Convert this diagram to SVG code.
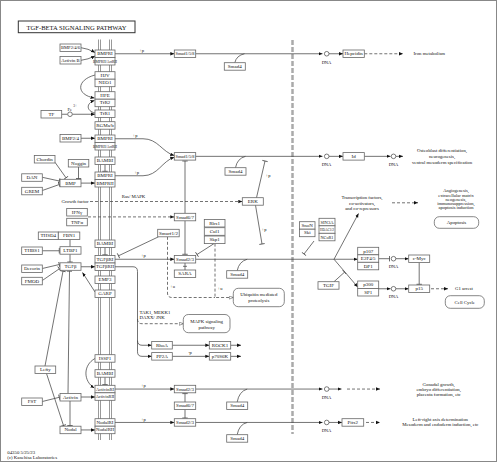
<svg xmlns="http://www.w3.org/2000/svg" width="497" height="462" viewBox="0 0 497 462">
<style>
text{font-family:"Liberation Serif","Times New Roman",serif;fill:#111}
.n rect{fill:#fff;stroke:#666;stroke-width:0.8}
.n text{font-size:5px;text-anchor:middle;dominant-baseline:central}
.r rect{fill:#fff;stroke:#555;stroke-width:0.7}
.r text{font-size:4.8px;text-anchor:middle;dominant-baseline:central}
.c path{fill:none;stroke:#444;stroke-width:0.75}
.c circle{fill:#fff;stroke:#444;stroke-width:0.7}
.a{marker-end:url(#ar)}
.b{marker-end:url(#br)}
.o{marker-end:url(#oa)}
.d{stroke-dasharray:3,2}
.l{font-size:4.8px;dominant-baseline:central}
.m{text-anchor:middle}
.s{font-size:4.5px;dominant-baseline:central}
.mem line{stroke:#999;stroke-width:1}
</style>
<defs>
<marker id="ar" markerUnits="userSpaceOnUse" markerWidth="5" markerHeight="4" refX="4" refY="2" orient="auto" viewBox="0 0 5 4"><path d="M0,0.3 L4,2 L0,3.7z" fill="#111"/></marker>
<marker id="oa" markerUnits="userSpaceOnUse" markerWidth="5" markerHeight="4" refX="4.3" refY="2" orient="auto" viewBox="0 0 5 4"><path d="M0.3,0.4 L4.3,2 L0.3,3.6z" fill="#fff" stroke="#444" stroke-width="0.5"/></marker>
<marker id="br" markerUnits="userSpaceOnUse" markerWidth="2" markerHeight="6" refX="1" refY="3" orient="auto" viewBox="0 0 2 6"><path d="M1,0.3 V5.7" stroke="#444" stroke-width="0.8"/></marker>
</defs>
<rect x="0.5" y="0.5" width="496" height="461" fill="#fff" stroke="#888" stroke-width="1"/>
<g id="title"><rect x="18.3" y="21" width="116.7" height="11.7" fill="#fff" stroke="#333" stroke-width="1"/><text x="76.6" y="27" font-size="6.8" text-anchor="middle" dominant-baseline="central" textLength="100" lengthAdjust="spacingAndGlyphs">TGF-BETA SIGNALING PATHWAY</text></g>
<g id="membrane" class="mem"><line x1="98.5" y1="39.5" x2="98.5" y2="440"/><line x1="100.5" y1="39.5" x2="100.5" y2="440"/><line x1="109.5" y1="39.5" x2="109.5" y2="440"/><line x1="111.5" y1="39.5" x2="111.5" y2="440"/></g>
<line id="nuclear-membrane" x1="292.5" y1="40" x2="292.5" y2="434" stroke="#aaa" stroke-width="2.5" stroke-dasharray="5,2"/>
<g id="connectors" class="c">
<path class="a" d="M81,47.7 Q88,48.5 95,52.5"/>
<path class="a" d="M81,60.3 Q88,59.5 95,56"/>
<path class="a" d="M115,53.75 H174.3"/>
<path class="a" d="M195.7,53.75 H322.5"/>
<path d="M234.8,62.7 Q236.5,55.5 244.5,53.75"/>
<path class="a" d="M329,53.75 H343"/>
<path class="a d" d="M364.3,53.75 H403"/>
<path class="a" d="M95,75 C76,80 76,95 94.5,98"/>
<path class="a" d="M95,113 C86,111 86,103 94.5,100.5"/>
<path d="M61.7,114.25 H67.7"/>
<path class="a" d="M72.3,114.25 H95"/>
<path class="a" d="M81,138.25 H95"/>
<path class="a" d="M115,138.75 H143 C158,138.75 162,152 174.3,155.5"/>
<path class="a" d="M115,175.75 H143 C158,175.75 162,161 174.3,157.3"/>
<path class="a" d="M195.7,156.35 H322.5"/>
<path d="M235.5,167.7 Q237.2,158.5 245.5,156.35"/>
<path class="a" d="M329,156.35 H343"/>
<path class="a" d="M364.3,156.35 H390.5"/>
<path class="a" d="M395.8,156.35 H403"/>
<path class="b" d="M105,164.5 V171.3"/>
<path class="b" d="M55,162.3 L66,177.8"/>
<path class="b" d="M78.5,167 V178.5"/>
<path class="b" d="M42.3,177.3 L59.3,181"/>
<path class="b" d="M42.3,190.5 L59.3,184.5"/>
<path class="a" d="M81,183.1 H95"/>
<path class="a d" d="M90,201.5 H242.3"/>
<path class="a d" d="M88,216.9 H174.3"/>
<path class="b" d="M185,213.3 V161"/>
<path class="b" d="M185,220.8 V254.3"/>
<path class="b" d="M256.5,197.7 L265,161"/>
<path class="b" d="M255.5,205.2 L262,244"/>
<path d="M70,239.5 V246.7"/>
<path class="b" d="M42.3,250.75 H59.3"/>
<path class="b" d="M70,254.2 V262"/>
<path class="b" d="M42.3,268.5 L59.3,264.5"/>
<path class="b" d="M42.3,280.5 L59.3,268.8"/>
<path class="a" d="M81,266.75 H95"/>
<path class="a" d="M95,292 L82.5,272.5"/>
<path class="b" d="M105,247.5 V254.8"/>
<path class="a" d="M115,259.25 H174.3"/>
<path class="b" d="M158.5,236.8 L118.5,255.8"/>
<path class="b" d="M214,243.6 L197,254.5"/>
<path d="M185,263 V270 M183,266.3 H187"/>
<path d="M195.7,259.25 H334"/>
<path d="M237.2,270.7 Q239,261.5 247.2,259.25"/>
<path class="a" d="M334,259.25 L358.5,213.5"/>
<path class="a" d="M334,259.25 H357.7"/>
<path class="a" d="M334,259.25 L357.7,287"/>
<path class="b" d="M314,241 L304,254"/>
<path class="b" d="M334,281.7 L344.5,272.2"/>
<path class="a d" d="M392,202.8 H418"/>
<path class="b" d="M378.7,258.7 H389.5"/>
<path class="a" d="M395.8,258.7 H408.7"/>
<path class="b" d="M419.2,262.5 V284.3"/>
<path class="a" d="M378.7,288.75 H390.5"/>
<path class="a" d="M395.8,288.75 H408.7"/>
<path class="a d" d="M431,288.75 H448"/>
<path class="a" d="M115,266.75 H133 Q137.5,266.75 137.5,271.5 V351.8 Q137.5,356.35 142,356.35 H151.7"/>
<path class="a" d="M137.5,340.5 Q137.5,345.25 142,345.25 H151.7"/>
<path class="o d" d="M137.5,319 Q137.5,323.7 142,323.7 H183.3"/>
<path class="a" d="M172.3,345.25 H209.3"/>
<path class="a" d="M230.7,345.25 H241"/>
<path class="a" d="M172.3,356.35 H209.3"/>
<path class="a" d="M230.7,356.35 H241"/>
<path class="d" d="M167.5,236.8 V293 Q167.5,297.5 172,297.5 H215"/>
<path class="o d" d="M215,243.6 V297.5 H233.3"/>
<path class="b" d="M105,377.3 V384.6"/>
<path class="a" d="M95,358.5 C83,365 83,381 94.3,388"/>
<path class="a" d="M80,397 H95"/>
<path class="b" d="M42.3,401.5 L59.3,397.3"/>
<path class="a" d="M81,429.95 H95"/>
<path class="b" d="M45,366 L63,271.2"/>
<path class="b" d="M68,393.5 L69.5,271.2"/>
<path class="b" d="M46.5,373.5 L63.5,425.5"/>
<path class="b" d="M70,401 V425.5"/>
<path class="a" d="M115,389.05 H174.3"/>
<path class="a" d="M195.7,389.05 H322.5"/>
<path d="M237.2,402 Q239,391.5 247.2,389.05"/>
<path class="a" d="M329,389.05 H341.5"/>
<path class="a d" d="M347,389.05 H380"/>
<path class="b" d="M185,402 V393.6"/>
<path class="b" d="M185,409.5 V418"/>
<path class="a" d="M115,422.45 H174.3"/>
<path class="a" d="M195.7,422.45 H322.5"/>
<path d="M237.2,434.7 Q239,424.5 247.2,422.45"/>
<path class="a" d="M329,422.45 H342"/>
<path class="a d" d="M366,422.45 H380"/>
<circle cx="70" cy="114.25" r="2.3"/>
<circle cx="326.7" cy="53.75" r="2.3"/>
<circle cx="326.7" cy="156.35" r="2.3"/>
<circle cx="393.5" cy="156.35" r="2.3"/>
<circle cx="393.5" cy="258.7" r="2.3"/>
<circle cx="393.5" cy="288.75" r="2.3"/>
<circle cx="326.7" cy="389.05" r="2.3"/>
<circle cx="326.7" cy="422.45" r="2.3"/>
</g>
<g id="labels">
<text class="s m" x="141.7" y="50.7">+p</text>
<text class="s m" x="135" y="135.7">+p</text>
<text class="s m" x="136.7" y="172">+p</text>
<text class="s m" x="143.3" y="255.6">+p</text>
<text class="s m" x="143.3" y="385.9">+p</text>
<text class="s m" x="143.3" y="419.3">+p</text>
<text class="s m" x="268" y="175.5">+p</text>
<text class="s m" x="264" y="229.5">+p</text>
<text class="s m" x="190" y="352.7">-p</text>
<text class="s m" x="172.5" y="286.5">+u</text>
<text class="s m" x="220" y="288.5">+u</text>
<text class="s" x="67.5" y="109.3">Fe</text>
<text x="73.3" y="106.3" font-size="3.4" dominant-baseline="central">3+</text>
<text class="s m" x="326.5" y="62">DNA</text>
<text class="s m" x="326.5" y="164.8">DNA</text>
<text class="s m" x="393.5" y="164.8">DNA</text>
<text class="s m" x="393.5" y="266.9">DNA</text>
<text class="s m" x="393.5" y="296.8">DNA</text>
<text class="s m" x="326.5" y="397.2">DNA</text>
<text class="s m" x="326.5" y="430.5">DNA</text>
<text class="l" x="413.5" y="53.75">Iron metabolism</text>
<text class="l m" x="442" y="150.5">Osteoblast differentiation,</text>
<text class="l m" x="442" y="156.5">neurogenesis,</text>
<text class="l m" x="442" y="162.5">ventral mesoderm specification</text>
<text class="l m" x="362" y="197.6">Transcription factors,</text>
<text class="l m" x="362" y="203.2">co-activators,</text>
<text class="l m" x="362" y="208.8">and co-repressors</text>
<text class="s m" x="456" y="190.7">Angiogenesis,</text>
<text class="s m" x="456" y="195.1">extracellular matrix</text>
<text class="s m" x="456" y="199.4">neogenesis,</text>
<text class="s m" x="456" y="203.5">immunosuppression,</text>
<text class="s m" x="456" y="207.6">apoptosis induction</text>
<text class="l" x="455" y="288.75">G1 arrest</text>
<text class="l m" x="438.7" y="384">Gonadal growth,</text>
<text class="l m" x="438.7" y="389.3">embryo differentiation,</text>
<text class="l m" x="438.7" y="394.6">placenta formation, etc</text>
<text class="l m" x="440.3" y="419.3">Left-right axis determination</text>
<text class="l m" x="440.3" y="424.7">Mesoderm and endoderm induction, etc</text>
<text class="l" x="88.5" y="201.3" text-anchor="end">Growth factor</text>
<text class="l" x="121.7" y="196.3">Ras/ MAPK</text>
<text class="l" x="139.5" y="312.8">TAK1, MEKK1</text>
<text class="l" x="139.5" y="317.8">DAXX/ JNK</text>
<text class="l" x="7.3" y="452">04350 5/25/23</text>
<text class="l" x="7.3" y="457.5">(c) Kanehisa Laboratories</text>
</g>
<g id="n-bmpr1-a" class="n"><rect x="95" y="50" width="20" height="7.5"/><text x="105" y="53.75">BMPRI</text></g>
<g id="n-bmpr2-a" class="n"><rect x="95" y="57.5" width="20" height="7.5"/><text x="105" y="61.25" textLength="24" lengthAdjust="spacingAndGlyphs">BMPRII/ActRII</text></g>
<g id="n-hjv" class="n"><rect x="95" y="71.7" width="20" height="7.5"/><text x="105" y="75.45">HJV</text></g>
<g id="n-neo1" class="n"><rect x="95" y="79.2" width="20" height="7.5"/><text x="105" y="82.95">NEO1</text></g>
<g id="n-hfe" class="n"><rect x="95" y="91.7" width="20" height="7.5"/><text x="105" y="95.45">HFE</text></g>
<g id="n-tfr2" class="n"><rect x="95" y="99.2" width="20" height="7.5"/><text x="105" y="102.95">TfR2</text></g>
<g id="n-tfr1" class="n"><rect x="95" y="110" width="20" height="7.5"/><text x="105" y="113.75">TfR1</text></g>
<g id="n-rgm" class="n"><rect x="95" y="121.7" width="20" height="7.5"/><text x="105" y="125.45">RGMa/b</text></g>
<g id="n-bmpr1-b" class="n"><rect x="95" y="135" width="20" height="7.5"/><text x="105" y="138.75">BMPRI</text></g>
<g id="n-bmpr2-b" class="n"><rect x="95" y="142.5" width="20" height="7.5"/><text x="105" y="146.25" textLength="24" lengthAdjust="spacingAndGlyphs">BMPRII/ActRII</text></g>
<g id="n-bambi-a" class="n"><rect x="95" y="157" width="20" height="7.5"/><text x="105" y="160.75">BAMBI</text></g>
<g id="n-bmpr1-c" class="n"><rect x="95" y="172" width="20" height="7.5"/><text x="105" y="175.75">BMPRI</text></g>
<g id="n-bmpr2-c" class="n"><rect x="95" y="179.5" width="20" height="7.5"/><text x="105" y="183.25">BMPRII</text></g>
<g id="n-bambi-b" class="n"><rect x="95" y="240" width="20" height="7.5"/><text x="105" y="243.75">BAMBI</text></g>
<g id="n-tgfbr1" class="n"><rect x="95" y="255.5" width="20" height="7.5"/><text x="105" y="259.25" textLength="17" lengthAdjust="spacingAndGlyphs">TGFβRI</text></g>
<g id="n-tgfbr2" class="n"><rect x="95" y="263" width="20" height="7.5"/><text x="105" y="266.75" textLength="18" lengthAdjust="spacingAndGlyphs">TGFβRII</text></g>
<g id="n-emp3" class="n"><rect x="95" y="276" width="20" height="7.5"/><text x="105" y="279.75">EMP3</text></g>
<g id="n-garp" class="n"><rect x="95" y="290" width="20" height="7.5"/><text x="105" y="293.75">GARP</text></g>
<g id="n-issp1" class="n"><rect x="95" y="354.7" width="20" height="7.5"/><text x="105" y="358.45">ISSP1</text></g>
<g id="n-bambi-c" class="n"><rect x="95" y="369.7" width="20" height="7.5"/><text x="105" y="373.45">BAMBI</text></g>
<g id="n-activinr1" class="n"><rect x="95" y="385.3" width="20" height="7.5"/><text x="105" y="389.05" textLength="18" lengthAdjust="spacingAndGlyphs">ActivinRI</text></g>
<g id="n-activinr2" class="n"><rect x="95" y="392.8" width="20" height="7.5"/><text x="105" y="396.55" textLength="18.5" lengthAdjust="spacingAndGlyphs">ActivinRII</text></g>
<g id="n-nodalr1" class="n"><rect x="95" y="418.7" width="20" height="7.5"/><text x="105" y="422.45" textLength="17" lengthAdjust="spacingAndGlyphs">NodalRI</text></g>
<g id="n-nodalr2" class="n"><rect x="95" y="426.2" width="20" height="7.5"/><text x="105" y="429.95" textLength="18" lengthAdjust="spacingAndGlyphs">NodalRII</text></g>
<g id="n-bmp246" class="n"><rect x="60" y="44" width="21" height="7.5"/><text x="70.5" y="47.75" textLength="19" lengthAdjust="spacingAndGlyphs">BMP2/4/6</text></g>
<g id="n-activinb" class="n"><rect x="60" y="56.5" width="21" height="7.5"/><text x="70.5" y="60.25" textLength="18.5" lengthAdjust="spacingAndGlyphs">Activin B</text></g>
<g id="n-tf" class="n"><rect x="41" y="110.5" width="20.7" height="7.5"/><text x="51.35" y="114.25">TF</text></g>
<g id="n-bmp24" class="n"><rect x="60" y="134.5" width="21" height="7.5"/><text x="70.5" y="138.25">BMP2/4</text></g>
<g id="n-chordin" class="n"><rect x="34.3" y="155.5" width="20.7" height="7.5"/><text x="44.65" y="159.25">Chordin</text></g>
<g id="n-noggin" class="n"><rect x="68.3" y="159.5" width="20.5" height="7.5"/><text x="78.55" y="163.25">Noggin</text></g>
<g id="n-dan" class="n"><rect x="21.7" y="173.8" width="20.6" height="7.5"/><text x="32" y="177.55">DAN</text></g>
<g id="n-grem" class="n"><rect x="21.7" y="187.3" width="20.6" height="7.5"/><text x="32" y="191.05">GREM</text></g>
<g id="n-bmp" class="n"><rect x="60" y="179.3" width="21" height="7.5"/><text x="70.5" y="183.05">BMP</text></g>
<g id="n-ifng" class="n"><rect x="66.7" y="208.5" width="20.6" height="7.5"/><text x="77" y="212.25">IFNγ</text></g>
<g id="n-tnfa" class="n"><rect x="66.7" y="218.3" width="20.6" height="7.5"/><text x="77" y="222.05">TNFα</text></g>
<g id="n-thsd4" class="n"><rect x="38.3" y="232" width="20" height="7.5"/><text x="48.3" y="235.75">THSD4</text></g>
<g id="n-fbn1" class="n"><rect x="58.3" y="232" width="21.5" height="7.5"/><text x="69.05" y="235.75">FBN1</text></g>
<g id="n-thbs1" class="n"><rect x="21.7" y="247" width="20.6" height="7.5"/><text x="32" y="250.75">THBS1</text></g>
<g id="n-ltbp1" class="n"><rect x="60" y="246.7" width="21" height="7.5"/><text x="70.5" y="250.45">LTBP1</text></g>
<g id="n-decorin" class="n"><rect x="21.7" y="265" width="20.6" height="7.5"/><text x="32" y="268.75">Decorin</text></g>
<g id="n-tgfb" class="n"><rect x="60" y="262.8" width="21" height="7.5"/><text x="70.5" y="266.55">TGFβ</text></g>
<g id="n-fmod" class="n"><rect x="21.7" y="277.3" width="20.6" height="7.5"/><text x="32" y="281.05">FMOD</text></g>
<g id="n-lefty" class="n"><rect x="35" y="366" width="20.7" height="7.5"/><text x="45.35" y="369.75">Lefty</text></g>
<g id="n-fst" class="n"><rect x="21.7" y="398" width="20.6" height="7.5"/><text x="32" y="401.75">FST</text></g>
<g id="n-activin" class="n"><rect x="60" y="393.5" width="21" height="7.5"/><text x="70.5" y="397.25">Activin</text></g>
<g id="n-nodal" class="n"><rect x="60" y="426.2" width="21" height="7.5"/><text x="70.5" y="429.95">Nodal</text></g>
<g id="n-smad158-a" class="n"><rect x="174.3" y="50" width="21.4" height="7.5"/><text x="185" y="53.75" textLength="19" lengthAdjust="spacingAndGlyphs">Smad1/5/8</text></g>
<g id="n-smad158-b" class="n"><rect x="174.3" y="152.6" width="21.4" height="7.5"/><text x="185" y="156.35" textLength="19" lengthAdjust="spacingAndGlyphs">Smad1/5/8</text></g>
<g id="n-smad67-a" class="n"><rect x="174.3" y="213.3" width="21.4" height="7.5"/><text x="185" y="217.05">Smad6/7</text></g>
<g id="n-smurf" class="n"><rect x="157.7" y="229.3" width="21.5" height="7.5"/><text x="168.45" y="233.05">Smurf1/2</text></g>
<g id="n-smad23-a" class="n"><rect x="174.3" y="255.5" width="21.4" height="7.5"/><text x="185" y="259.25">Smad2/3</text></g>
<g id="n-sara" class="n"><rect x="174.3" y="270" width="21.4" height="7.5"/><text x="185" y="273.75">SARA</text></g>
<g id="n-smad23-b" class="n"><rect x="174.3" y="385.3" width="21.4" height="7.5"/><text x="185" y="389.05">Smad2/3</text></g>
<g id="n-smad67-b" class="n"><rect x="174.3" y="402" width="21.4" height="7.5"/><text x="185" y="405.75">Smad6/7</text></g>
<g id="n-smad23-c" class="n"><rect x="174.3" y="418.7" width="21.4" height="7.5"/><text x="185" y="422.45">Smad2/3</text></g>
<g id="n-smad4-a" class="n"><rect x="224.3" y="62.7" width="21" height="7.5"/><text x="234.8" y="66.45">Smad4</text></g>
<g id="n-smad4-b" class="n"><rect x="225" y="167.7" width="21" height="7.5"/><text x="235.5" y="171.45">Smad4</text></g>
<g id="n-smad4-c" class="n"><rect x="226.7" y="270.7" width="21" height="7.5"/><text x="237.2" y="274.45">Smad4</text></g>
<g id="n-smad4-d" class="n"><rect x="226.7" y="402" width="21" height="7.5"/><text x="237.2" y="405.75">Smad4</text></g>
<g id="n-smad4-e" class="n"><rect x="226.7" y="434.7" width="21" height="7.5"/><text x="237.2" y="438.45">Smad4</text></g>
<g id="n-erk" class="n"><rect x="242.3" y="197.7" width="21" height="7.5"/><text x="252.8" y="201.45">ERK</text></g>
<g id="n-rbx1" class="n"><rect x="204.3" y="219.4" width="20.7" height="7.6"/><text x="214.65" y="223.2">Rbx1</text></g>
<g id="n-cul1" class="n"><rect x="204.3" y="227.7" width="20.7" height="7.6"/><text x="214.65" y="231.5">Cul1</text></g>
<g id="n-skp1" class="n"><rect x="204.3" y="236" width="20.7" height="7.6"/><text x="214.65" y="239.8">Skp1</text></g>
<g id="n-rhoa" class="n"><rect x="151.7" y="341.5" width="20.6" height="7.5"/><text x="162" y="345.25">RhoA</text></g>
<g id="n-pp2a" class="n"><rect x="151.7" y="352.6" width="20.6" height="7.5"/><text x="162" y="356.35">PP2A</text></g>
<g id="n-rock1" class="n"><rect x="209.3" y="341.5" width="21.4" height="7.5"/><text x="220" y="345.25">ROCK1</text></g>
<g id="n-p70s6k" class="n"><rect x="209.3" y="352.6" width="21.4" height="7.5"/><text x="220" y="356.35">p70S6K</text></g>
<g id="n-snon" class="n"><rect x="299.5" y="221.7" width="15.5" height="7.5"/><text x="307.25" y="225.45">SnoN</text></g>
<g id="n-ski" class="n"><rect x="299.5" y="229.2" width="15.5" height="7.5"/><text x="307.25" y="232.95">Ski</text></g>
<g id="n-sin3a" class="n"><rect x="319" y="218.3" width="16" height="7.5"/><text x="327" y="222.05" textLength="13" lengthAdjust="spacingAndGlyphs">SIN3A</text></g>
<g id="n-hdac" class="n"><rect x="319" y="225.8" width="16" height="7.5"/><text x="327" y="229.55" textLength="14" lengthAdjust="spacingAndGlyphs">HDAC1/2</text></g>
<g id="n-ncor1" class="n"><rect x="319" y="233.3" width="16" height="7.5"/><text x="327" y="237.05" textLength="13" lengthAdjust="spacingAndGlyphs">NCoR1</text></g>
<g id="n-tgif" class="n"><rect x="318" y="281.7" width="21" height="7.5"/><text x="328.5" y="285.45">TGIF</text></g>
<g id="n-p107" class="n"><rect x="357.7" y="247.3" width="21" height="7.5"/><text x="368.2" y="251.05">p107</text></g>
<g id="n-e2f45" class="n"><rect x="357.7" y="254.8" width="21" height="7.5"/><text x="368.2" y="258.55">E2F4/5</text></g>
<g id="n-dp1" class="n"><rect x="357.7" y="262.3" width="21" height="7.5"/><text x="368.2" y="266.05">DP1</text></g>
<g id="n-cmyc" class="n"><rect x="408.7" y="255" width="21" height="7.5"/><text x="419.2" y="258.75">c-Myc</text></g>
<g id="n-p300" class="n"><rect x="357.7" y="281" width="21" height="7.5"/><text x="368.2" y="284.75">p300</text></g>
<g id="n-sp1" class="n"><rect x="357.7" y="288.5" width="21" height="7.5"/><text x="368.2" y="292.25">SP1</text></g>
<g id="n-p15" class="n"><rect x="408.7" y="285" width="21" height="7.5"/><text x="419.2" y="288.75">p15</text></g>
<g id="n-hepcidin" class="n"><rect x="343" y="50" width="21.3" height="7.5"/><text x="353.65" y="53.75">Hepcidin</text></g>
<g id="n-id" class="n"><rect x="343" y="152.6" width="21.3" height="7.5"/><text x="353.65" y="156.35">Id</text></g>
<g id="n-pitx2" class="n"><rect x="342" y="418.7" width="21.7" height="7.5"/><text x="352.85" y="422.45">Pitx2</text></g>
<g id="p-ubiquitin" class="r"><rect x="233.3" y="288.3" width="51" height="18.4" rx="5"/><text x="258.8" y="294.8">Ubiquitin mediated</text><text x="258.8" y="300.6">proteolysis</text></g>
<g id="p-mapk" class="r"><rect x="183.3" y="314.5" width="46.7" height="18.2" rx="5"/><text x="206.7" y="321.2">MAPK signaling</text><text x="206.7" y="327">pathway</text></g>
<g id="p-apoptosis" class="r"><rect x="434.3" y="216.7" width="44.4" height="11.6" rx="5"/><text x="456.5" y="222.5">Apoptosis</text></g>
<g id="p-cellcycle" class="r"><rect x="445.3" y="295.7" width="39" height="12.6" rx="5"/><text x="464.8" y="302">Cell Cycle</text></g>
</svg>
